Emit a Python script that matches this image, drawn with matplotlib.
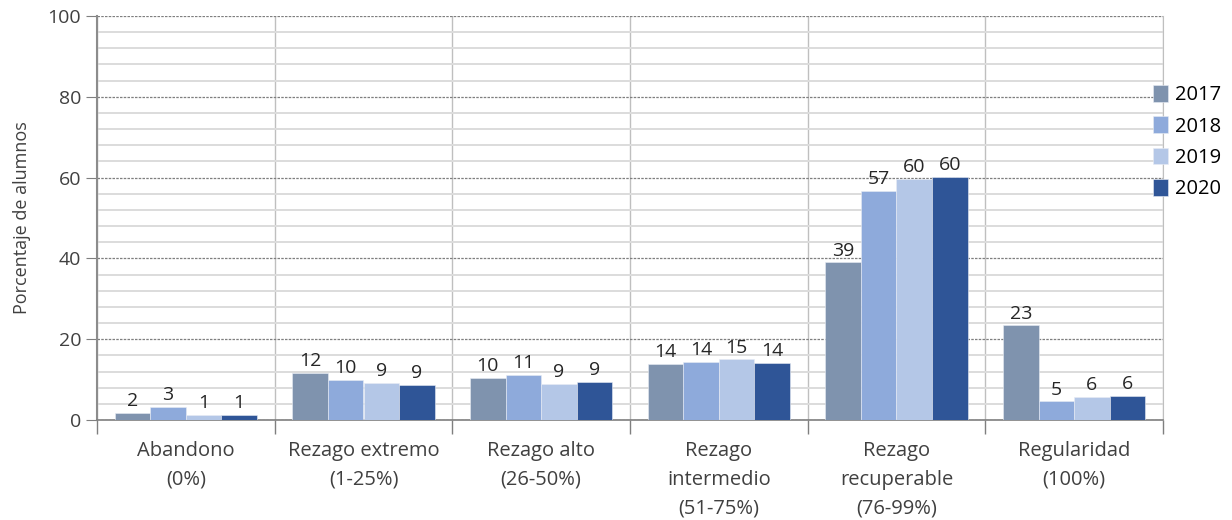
import numpy as np
import matplotlib.pyplot as plt
from matplotlib.ticker import MultipleLocator

# data
categorias = ["Abandono\n(0%)", "Rezago extremo\n(1-25%)", "Rezago alto\n(26-50%)",
              "Rezago\nintermedio\n(51-75%)", "Rezago\nrecuperable\n(76-99%)", "Regularidad\n(100%)"]
anios = ["2017", "2018", "2019", "2020"]
v2017 = [1.8, 11.7, 10.4, 13.8, 39.0, 23.4]
v2018 = [3.3, 9.9, 11.1, 14.3, 56.8, 4.6]
v2019 = [1.3, 9.1, 8.9, 15.0, 59.6, 5.7]
v2020 = [1.2, 8.7, 9.4, 14.2, 60.2, 5.9]
et2017 = [2, 12, 10, 14, 39, 23]
et2018 = [3, 10, 11, 14, 57, 5]
et2019 = [1, 9, 9, 15, 60, 6]
et2020 = [1, 9, 9, 14, 60, 6]
colores = ["#7f93ae", "#8eaadb", "#b4c7e7", "#2f5597"]

plt.rcParams['font.family'] = ['Open Sans', 'DejaVu Sans']

fig = plt.figure(figsize=(12.32, 5.2), dpi=100)
ax = fig.add_axes([97 / 1232, 100 / 520, (1163 - 97) / 1232, 404 / 520])

x = np.arange(len(categorias))
w = 0.2
series = [v2017, v2018, v2019, v2020]
etiquetas = [et2017, et2018, et2019, et2020]
for i, (vals, ets, col, anio) in enumerate(zip(series, etiquetas, colores, anios)):
    bars = ax.bar(x + (i - 1.5) * w, vals, w, color=col, label=anio, zorder=3,
                  edgecolor="#e8ecf4", linewidth=0.4)
    ax.bar_label(bars, labels=[str(e) for e in ets], padding=2,
                 fontsize=14, color="#262626")

ax.set_xlim(-0.5, len(categorias) - 0.5)
ax.set_ylim(0, 100)
ax.yaxis.set_major_locator(MultipleLocator(20))
ax.yaxis.set_minor_locator(MultipleLocator(4))
ax.grid(which="minor", axis="y", color="#dcdcdc", linewidth=1.4, zorder=0)
ax.grid(which="major", axis="y", color="#7f7f7f", linestyle=(0, (2, 1)), linewidth=0.9, zorder=1)

# category separators
ax.set_xticks(np.arange(len(categorias) + 1) - 0.5, minor=True)
ax.set_xticks(x)
ax.set_xticklabels(categorias, fontsize=14.5, color="#404040", linespacing=1.6)
ax.tick_params(axis="x", which="major", length=0, pad=15)
ax.tick_params(axis="x", which="minor", length=10, color="#7f7f7f", width=1)
ax.grid(which="minor", axis="x", color="#bfbfbf", linewidth=1, zorder=0)
ax.tick_params(axis="y", which="major", length=8, color="#7f7f7f", labelsize=14, labelcolor="#404040")
ax.tick_params(axis="y", which="minor", length=0)

ax.spines["top"].set_visible(False)
ax.spines["right"].set_color("#bfbfbf")
ax.spines["left"].set_color("#8c8c8c")
ax.spines["left"].set_linewidth(1.5)
ax.spines["bottom"].set_color("#7f7f7f")
ax.spines["bottom"].set_linewidth(1.2)

ax.set_ylabel("Porcentaje de alumnos", fontsize=13, color="#404040", labelpad=12)

fig.legend(loc="upper left", bbox_to_anchor=(1153 / 1232, 1 - 85 / 520), frameon=False,
           fontsize=14.5, handlelength=0.75, handleheight=0.9, handletextpad=0.35,
           labelspacing=0.55, borderaxespad=0, borderpad=0)

fig.savefig("out.png", dpi=100)
